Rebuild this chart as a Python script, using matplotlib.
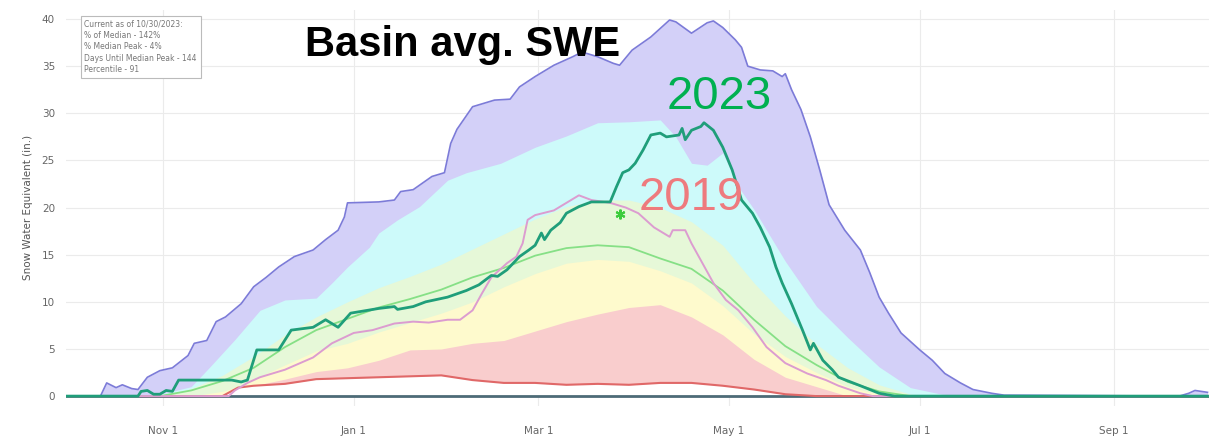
import numpy as np
import matplotlib
matplotlib.use("Agg")
import matplotlib.pyplot as plt

# day of water year (0 = Oct 1)
days = [0, 20, 30, 40, 50, 55, 60, 70, 80, 90, 100, 110, 120, 130, 140, 150, 160, 170,
        180, 190, 200, 210, 220, 230, 240, 250, 260, 270, 280, 290, 300, 365]
swe_min = [0, 0, 0, 0, 0, 0.9, 1.1, 1.3, 1.8, 1.9, 2.0, 2.1, 2.2, 1.7, 1.4, 1.4, 1.2, 1.3,
           1.2, 1.4, 1.4, 1.1, 0.7, 0.2, 0, 0, 0, 0, 0, 0, 0, 0]
p10 = [0, 0, 0, 0, 0, 0.5, 1.1, 1.8, 2.6, 3.0, 3.8, 4.9, 5.0, 5.6, 5.9, 6.9, 7.9, 8.7,
       9.4, 9.7, 8.4, 6.5, 3.9, 2.0, 1.0, 0, 0, 0, 0, 0, 0, 0]
p30 = [0, 0, 0, 0, 0.5, 1.0, 1.8, 3.3, 4.8, 5.6, 6.8, 7.8, 8.8, 10.0, 11.6, 13.0, 14.1, 14.5,
       14.3, 13.3, 12.0, 9.6, 6.6, 4.2, 2.5, 1.0, 0.2, 0, 0, 0, 0, 0]
median = [0, 0, 0, 0.6, 1.6, 2.3, 3.0, 5.2, 7.0, 8.2, 9.4, 10.3, 11.3, 12.6, 13.6, 14.9, 15.7, 16.0,
          15.8, 14.6, 13.5, 11.2, 8.1, 5.3, 3.3, 1.5, 0.5, 0, 0, 0, 0, 0]
p70 = [0, 0, 0, 0.8, 2.2, 3.2, 4.2, 6.5, 8.4, 10.0, 11.5, 12.7, 14.0, 15.6, 17.2, 18.8, 20.1, 20.8,
       20.8, 20.0, 18.5, 16.0, 12.0, 8.5, 5.5, 3.0, 1.2, 0.2, 0, 0, 0, 0]

p90_days = [0, 20, 30, 40, 46, 54, 62, 70, 80, 85, 90, 97, 100, 106, 113, 122, 128, 139, 150,
            160, 170, 180, 190, 195, 200, 205, 210, 215, 220, 230, 240, 250, 260, 270, 280, 290,
            365]
p90 = [0, 0, 0.2, 1.0, 3.1, 6.0, 9.1, 10.2, 10.4, 12.0, 13.7, 15.8, 17.3, 18.7, 20.1, 22.9,
       23.7, 24.7, 26.4, 27.6, 29.0, 29.1, 29.3, 27.5, 24.7, 24.5, 25.8, 22.2, 19.8, 14.3, 9.5,
       6.2, 3.1, 0.9, 0.2, 0, 0]

max_days = [0, 11, 13, 16, 18, 21, 23, 26, 30, 34, 39, 41, 45, 48, 51, 56, 60, 64, 68, 73, 79,
            83, 87, 89, 90, 100, 105, 107, 111, 114, 117, 121, 123, 125, 130, 137, 142, 145, 150,
            156, 158, 162, 165, 170, 175, 177, 181, 187, 193, 195, 200, 205, 207, 210, 214, 216,
            218, 222, 226, 229, 230, 232, 235, 238, 241, 244, 249, 254, 257, 260, 263, 267, 273,
            277, 281, 286, 290, 296, 300, 356, 359, 361, 363, 365]
swe_max = [0, 0, 1.4, 0.9, 1.2, 0.8, 0.7, 2.0, 2.7, 3.0, 4.3, 5.6, 5.9, 7.9, 8.4, 9.8, 11.6, 12.6,
           13.7, 14.8, 15.5, 16.6, 17.6, 19.0, 20.5, 20.6, 20.8, 21.7, 21.9, 22.6, 23.3, 23.7, 26.8,
           28.3, 30.7, 31.4, 31.5, 32.8, 33.9, 35.1, 35.4, 36.0, 36.5, 36.0, 35.3, 35.1, 36.7, 38.1,
           39.9, 39.7, 38.5, 39.6, 39.8, 39.1, 37.8, 37.0, 35.0, 34.6, 34.5, 33.9, 34.2, 32.5, 30.4,
           27.5, 24.0, 20.3, 17.6, 15.5, 13.1, 10.5, 8.8, 6.7, 4.9, 3.8, 2.4, 1.4, 0.7, 0.3, 0.1,
           0, 0.3, 0.6, 0.5, 0.4]

wy2023_days = [0, 23, 24, 26, 28, 30, 32, 34, 36, 53, 56, 58, 61, 68, 72, 79, 83, 84, 87, 91, 100,
               105, 106, 111, 115, 122, 128, 132, 136, 138, 141, 145, 148, 150, 152, 153, 155,
               158, 160, 164, 168, 174, 176, 178, 180, 182, 184.5, 187, 190, 192, 196, 197, 198,
               200, 203, 204, 207, 210, 213, 216, 219.5, 222, 225, 227, 229, 232, 235.5, 238, 239,
               242, 245, 247, 254, 260, 265, 365]
wy2023 = [0, 0, 0.5, 0.6, 0.2, 0.2, 0.6, 0.5, 1.7, 1.7, 1.5, 1.7, 4.9, 4.9, 7.0, 7.3, 8.1, 7.9,
          7.3, 8.8, 9.3, 9.5, 9.2, 9.5, 10.0, 10.5, 11.2, 11.8, 12.8, 12.7, 13.4, 14.8, 15.5,
          16.0, 17.3, 16.6, 17.6, 18.4, 19.4, 20.1, 20.6, 20.6, 22.2, 23.7, 24.0, 24.7, 26.1, 27.7,
          27.9, 27.5, 27.7, 28.4, 27.2, 28.2, 28.6, 29.0, 28.2, 26.4, 24.0, 20.8, 19.4, 17.9, 15.8,
          13.7, 12.0, 9.8, 7.0, 4.9, 5.6, 3.8, 2.8, 2.0, 1.1, 0.3, 0, 0]

wy2019_days = [0, 52, 54, 58, 62, 70, 79, 85, 92, 98, 105, 111, 116, 122, 126, 130, 133, 136, 141,
               144, 146, 147.6, 150, 156, 160, 164, 168, 174, 179, 183, 188, 191, 193, 194, 198,
               200, 203.5, 207, 211, 215, 219.5, 224, 230, 237, 243, 247, 254, 258, 365]
wy2019 = [0, 0, 0.6, 1.4, 2.0, 2.8, 4.1, 5.6, 6.7, 7.0, 7.7, 7.9, 7.8, 8.1, 8.1, 9.1, 10.9, 12.6,
          14.1, 14.8, 16.2, 18.7, 19.2, 19.7, 20.5, 21.3, 20.8, 20.5, 20.0, 19.4, 17.9, 17.3, 16.9,
          17.6, 17.6, 16.2, 14.1, 12.0, 10.2, 9.1, 7.3, 5.2, 3.5, 2.4, 1.7, 1.1, 0.3, 0, 0]

peak_marker = (177, 19.3)

tick_days = [31, 92, 151, 212, 273, 335]
tick_labels = ["Nov 1", "Jan 1", "Mar 1", "May 1", "Jul 1", "Sep 1"]

fig = plt.figure(figsize=(12.23, 4.37), dpi=100)
ax = fig.add_axes([0.054, 0.072, 0.9346, 0.906])

# stacked band fills, each drawn from zero
ax.fill_between(max_days, 0, swe_max, color="#d3d0f8", lw=0, zorder=1)
ax.fill_between(p90_days, 0, p90, color="#cdfafa", lw=0, zorder=2)
ax.fill_between(days, 0, p70, color="#e6f8d8", lw=0, zorder=3)
ax.fill_between(days, 0, p30, color="#fefacd", lw=0, zorder=4)
ax.fill_between(days, 0, p10, color="#f9cdcd", lw=0, zorder=5)
ax.fill_between(days, 0, swe_min, color="white", lw=0, zorder=6)

ax.axhline(0, color="#4d6b77", lw=2, zorder=7)
ax.plot(max_days, swe_max, color="#7c7bd8", lw=1.2, zorder=8)
ax.plot(days, swe_min, color="#e06868", lw=1.5, zorder=8)
ax.plot(days, median, color="#86e086", lw=1.3, zorder=9)
ax.plot(wy2019_days, wy2019, color="#dc9cd0", lw=1.4, zorder=10)
ax.plot(wy2023_days, wy2023, color="#1f9e7a", lw=2, zorder=11)
ax.plot(*peak_marker, marker=(6, 2, 0), color="#3ccc3c", ms=7, mew=1.5, zorder=12)

ax.set_xlim(0, 365.5)
ax.set_ylim(-1, 41)
ax.set_yticks(range(0, 41, 5))
ax.set_xticks(tick_days)
ax.set_xticklabels(tick_labels)
ax.tick_params(axis="x", length=0, pad=15, labelsize=7.5, labelcolor="#666666")
ax.tick_params(axis="y", length=0, pad=8, labelsize=7.5, labelcolor="#666666")
ax.grid(True, color="#ebebeb", lw=0.8)
ax.set_axisbelow(True)
for s in ax.spines.values():
    s.set_visible(False)
ax.set_ylabel("Snow Water Equivalent (in.)", fontsize=7.5, color="#555555", labelpad=6)

info = ("Current as of 10/30/2023:\n% of Median - 142%\n% Median Peak - 4%\n"
        "Days Until Median Peak - 144\nPercentile - 91")
ax.text(0.016, 0.975, info, transform=ax.transAxes, fontsize=5.5, color="#777777",
        va="top", ha="left", linespacing=1.35, zorder=13,
        bbox=dict(boxstyle="square,pad=0.5", fc="white", ec="#bbbbbb", lw=0.8))

fig.text(0.249, 0.897, "Basin avg. SWE", fontsize=30, fontweight="bold",
         family="Liberation Sans", color="black", va="center", ha="left")
fig.text(0.545, 0.778, "2023", fontsize=34, family="Liberation Sans",
         color="#00b050", va="center", ha="left")
fig.text(0.522, 0.547, "2019", fontsize=34, family="Liberation Sans",
         color="#ee7a7e", va="center", ha="left")

fig.savefig("out.png", dpi=100)
